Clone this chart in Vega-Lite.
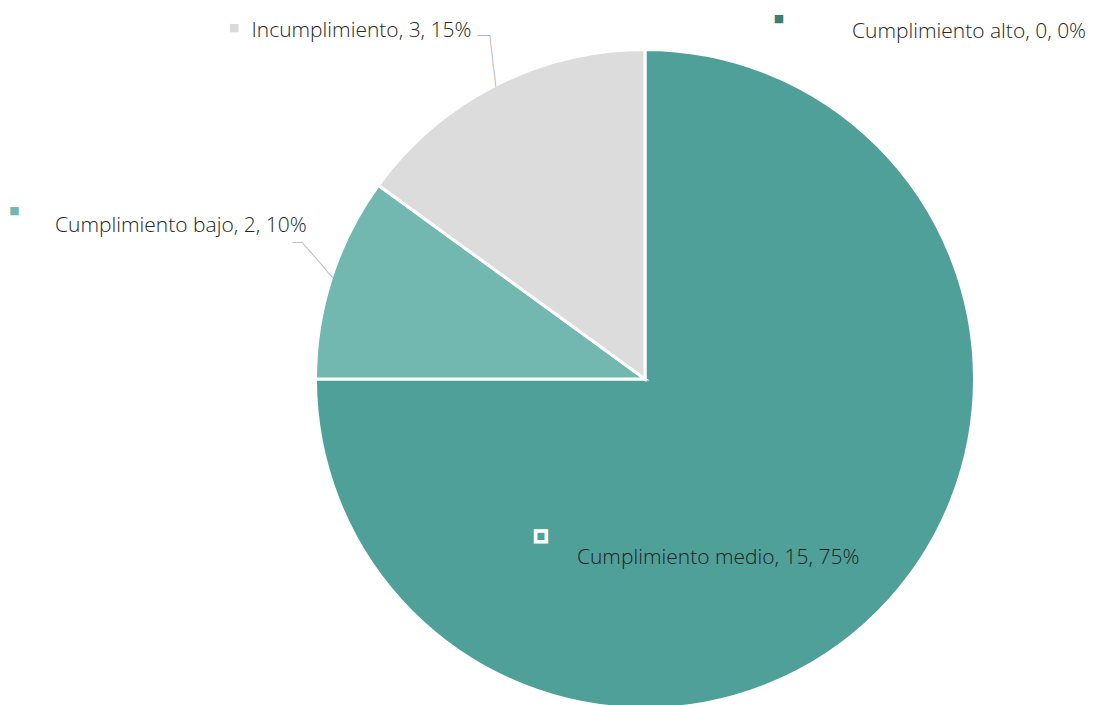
{
  "$schema": "https://vega.github.io/schema/vega-lite/v6.json",
  "width": 656,
  "height": 656,
  "autosize": {"type": "none"},
  "padding": {"left": 317, "top": 51, "right": 120, "bottom": 0},
  "background": "white",
  "view": {"stroke": null},
  "data": {
    "values": [
      {"category": "Cumplimiento alto", "count": 0, "ord": 1, "label": "Cumplimiento alto, 0, 0%"},
      {"category": "Cumplimiento medio", "count": 15, "ord": 2, "label": "Cumplimiento medio, 15, 75%"},
      {"category": "Cumplimiento bajo", "count": 2, "ord": 3, "label": "Cumplimiento bajo, 2, 10%"},
      {"category": "Incumplimiento", "count": 3, "ord": 4, "label": "Incumplimiento, 3, 15%"}
    ]
  },
  "encoding": {
    "theta": {"field": "count", "type": "quantitative", "stack": true},
    "order": {"field": "ord", "type": "quantitative"},
    "detail": {"field": "category", "type": "nominal"}
  },
  "layer": [
    {
      "mark": {"type": "arc", "radius": 329.5, "stroke": "white", "strokeWidth": 3},
      "encoding": {
        "color": {
          "field": "category", "type": "nominal", "legend": null,
          "scale": {
            "domain": ["Cumplimiento alto", "Cumplimiento medio", "Cumplimiento bajo", "Incumplimiento"],
            "range": ["#3E7B74", "#4FA098", "#73B8B0", "#DCDCDC"]
          }
        }
      }
    },
    {
      "mark": {"type": "text", "radius": 328, "align": "left", "baseline": "alphabetic", "dx": 207, "dy": -13, "font": "Open Sans", "fontWeight": 300, "fontSize": 21, "fill": "#262626"},
      "encoding": {"text": {"condition": {"test": "datum.category === 'Cumplimiento alto'", "field": "label"}, "value": ""}}
    },
    {
      "mark": {"type": "text", "radius": 328, "align": "left", "baseline": "alphabetic", "dx": -300, "dy": -47, "font": "Open Sans", "fontWeight": 300, "fontSize": 21, "fill": "#1E1E1E"},
      "encoding": {"text": {"condition": {"test": "datum.category === 'Cumplimiento medio'", "field": "label"}, "value": ""}}
    },
    {
      "mark": {"type": "text", "radius": 328, "align": "left", "baseline": "alphabetic", "dx": -278, "dy": -46, "font": "Open Sans", "fontWeight": 300, "fontSize": 21, "fill": "#262626"},
      "encoding": {"text": {"condition": {"test": "datum.category === 'Cumplimiento bajo'", "field": "label"}, "value": ""}}
    },
    {
      "mark": {"type": "text", "radius": 328, "align": "left", "baseline": "alphabetic", "dx": -244.6, "dy": -49.7, "font": "Open Sans", "fontWeight": 300, "fontSize": 21, "fill": "#262626"},
      "encoding": {"text": {"condition": {"test": "datum.category === 'Incumplimiento'", "field": "label"}, "value": ""}}
    },
    {
      "mark": {"type": "text", "radius": 328, "align": "center", "baseline": "middle", "dx": 134, "dy": -32.5, "font": "DejaVu Sans", "fontSize": 11, "fill": "#3E7B74"},
      "encoding": {"text": {"condition": {"test": "datum.category === 'Cumplimiento alto'", "value": "■"}, "value": ""}}
    },
    {
      "mark": {"type": "text", "radius": 328, "align": "center", "baseline": "middle", "dx": -336, "dy": -75, "font": "DejaVu Sans", "fontSize": 14, "fill": "#4FA098", "stroke": "white", "strokeWidth": 3.5},
      "encoding": {"text": {"condition": {"test": "datum.category === 'Cumplimiento medio'", "value": "■"}, "value": ""}}
    },
    {
      "mark": {"type": "text", "radius": 328, "align": "center", "baseline": "middle", "dx": -318.6, "dy": -67.1, "font": "DejaVu Sans", "fontSize": 11, "fill": "#73B8B0"},
      "encoding": {"text": {"condition": {"test": "datum.category === 'Cumplimiento bajo'", "value": "■"}, "value": ""}}
    },
    {
      "mark": {"type": "text", "radius": 328, "align": "center", "baseline": "middle", "dx": -262, "dy": -59.2, "font": "DejaVu Sans", "fontSize": 11, "fill": "#D9D9D9"},
      "encoding": {"text": {"condition": {"test": "datum.category === 'Incumplimiento'", "value": "■"}, "value": ""}}
    },
    {
      "mark": {"type": "text", "radius": 328, "align": "left", "baseline": "middle", "angle": -96.8, "font": "DejaVu Sans Mono", "fontSize": 9.52, "fill": "#B0B0B0"},
      "encoding": {"text": {"condition": {"test": "datum.category === 'Incumplimiento'", "value": "─────────"}, "value": ""}}
    },
    {
      "mark": {"type": "text", "radius": 328, "align": "left", "baseline": "middle", "dx": -18.6, "dy": -51.2, "font": "DejaVu Sans Mono", "fontSize": 10.4, "fill": "#B0B0B0"},
      "encoding": {"text": {"condition": {"test": "datum.category === 'Incumplimiento'", "value": "──"}, "value": ""}}
    },
    {
      "mark": {"type": "text", "radius": 328, "align": "left", "baseline": "middle", "angle": -131, "font": "DejaVu Sans Mono", "fontSize": 9.43, "fill": "#B0B0B0"},
      "encoding": {"text": {"condition": {"test": "datum.category === 'Cumplimiento bajo'", "value": "────────"}, "value": ""}}
    },
    {
      "mark": {"type": "text", "radius": 328, "align": "left", "baseline": "middle", "dx": -40.6, "dy": -34.3, "font": "DejaVu Sans Mono", "fontSize": 9.0, "fill": "#B0B0B0"},
      "encoding": {"text": {"condition": {"test": "datum.category === 'Cumplimiento bajo'", "value": "──"}, "value": ""}}
    }
  ]
}
